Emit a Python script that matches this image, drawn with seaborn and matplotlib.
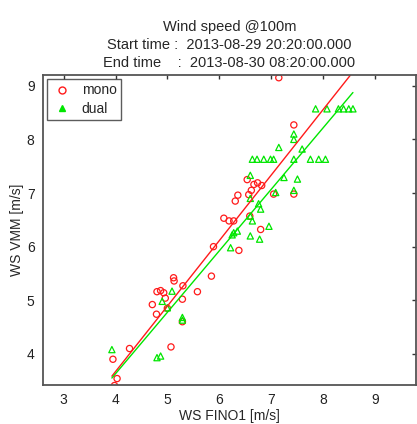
import numpy as np
import pandas as pd
import seaborn as sns
import matplotlib
matplotlib.use("Agg")
import matplotlib.pyplot as plt

# mono (red circles): WS FINO1 vs WS VMM
mono_x = [3.98, 4.03, 3.95, 4.27, 5.07, 4.79, 5.00, 5.29, 4.71, 5.29,
          4.80, 4.87, 4.93, 4.96, 5.13, 5.12, 5.30, 5.58, 5.85, 5.89,
          6.38, 6.80, 6.09, 6.19, 6.28, 6.59, 6.31, 6.36, 6.57, 6.54,
          6.67, 6.74, 6.82, 7.05, 7.44, 7.44, 7.15, 6.62]
mono_y = [3.41, 3.54, 3.90, 4.10, 4.13, 4.74, 4.85, 4.60, 4.92, 5.02,
          5.16, 5.18, 5.14, 5.04, 5.36, 5.42, 5.27, 5.16, 5.45, 6.00,
          5.93, 6.32, 6.53, 6.48, 6.48, 6.57, 6.85, 6.96, 6.97, 7.25,
          7.16, 7.19, 7.14, 6.98, 6.98, 8.27, 9.15, 7.05]

# dual (green triangles)
dual_x = [3.93, 4.80, 4.87, 5.29, 5.29, 4.90, 5.00, 5.09, 6.22, 6.25,
          6.28, 6.35, 6.60, 6.78, 6.96, 6.64, 6.60, 6.80, 6.76, 6.60,
          7.09, 7.44, 6.60, 7.25, 7.51,
          6.64, 6.73, 6.86, 6.99, 7.05, 7.44, 7.76, 7.92, 8.05,
          7.15, 7.60, 7.44, 7.44,
          7.86, 8.08, 8.30, 8.40, 8.50, 8.58]
dual_y = [4.08, 3.93, 3.96, 4.68, 4.63, 4.98, 4.86, 5.17, 5.98, 6.22,
          6.26, 6.29, 6.20, 6.14, 6.38, 6.48, 6.57, 6.70, 6.80, 6.90,
          7.01, 7.05, 7.33, 7.29, 7.26,
          7.63, 7.63, 7.63, 7.63, 7.63, 7.63, 7.63, 7.63, 7.63,
          7.85, 7.82, 8.00, 8.10,
          8.57, 8.57, 8.57, 8.57, 8.57, 8.57]

# linear fits (slope, intercept)
mono_fit = (1.22, -1.21)
dual_fit = (1.145, -0.95)
fit_range = [3.93, 8.58]

x_ticks = [3, 4, 5, 6, 7, 8, 9]
y_ticks = [4, 5, 6, 7, 8, 9]

red = "#ff1a1a"
green = "#00e600"

df = pd.concat([
    pd.DataFrame({"x": mono_x, "y": mono_y, "series": "mono"}),
    pd.DataFrame({"x": dual_x, "y": dual_y, "series": "dual"}),
])

sns.set_style("white")
plt.rcParams["font.family"] = ["Liberation Sans", "DejaVu Sans"]

fig = plt.figure(figsize=(4.17, 4.24), dpi=100)
ax = fig.add_axes([0.103, 0.092, 0.895, 0.731])

sns.scatterplot(data=df, x="x", y="y", hue="series", style="series",
                markers={"mono": "o", "dual": "^"},
                palette={"mono": red, "dual": green},
                s=20, linewidth=0.9, ax=ax, legend=False)
# open markers: move the per-point colours to the edges
for coll in ax.collections:
    fc = coll.get_facecolors()
    coll.set_edgecolors(fc)
    coll.set_facecolor("none")

fx = np.array(fit_range)
ax.plot(fx, mono_fit[0] * fx + mono_fit[1], color=red, lw=1.0)
ax.plot(fx, dual_fit[0] * fx + dual_fit[1], color=green, lw=1.0)

# legend proxies
ax.plot([], [], "o", mfc="none", mec=red, ms=5, mew=1.0, label="mono")
ax.plot([], [], "^", mfc=green, mec=green, ms=5, mew=1.0, label="dual")
leg = ax.legend(loc="upper left", fancybox=False, frameon=True, fontsize=10,
                handletextpad=0.6, borderpad=0.3, labelspacing=0.35,
                handlelength=1.6, borderaxespad=0.3)
leg.get_frame().set_edgecolor("#333333")
leg.get_frame().set_linewidth(1.0)

ax.set_xlim(2.6, 9.8)
ax.set_ylim(3.42, 9.2)
ax.set_xticks(x_ticks)
ax.set_yticks(y_ticks)
ax.tick_params(direction="in", length=3, width=1, top=True, right=True,
               labelsize=10, colors="#333333", labelcolor="#222222", pad=6)
for sp in ax.spines.values():
    sp.set_visible(True)
    sp.set_color("#555555")
    sp.set_linewidth(1.3)

ax.set_xlabel("WS FINO1 [m/s]", fontsize=10, labelpad=1)
ax.set_ylabel("WS VMM [m/s]", fontsize=10, labelpad=2)
ax.set_title("Wind speed @100m\n"
             "Start time :  2013-08-29 20:20:00.000\n"
             "End time    :  2013-08-30 08:20:00.000",
             fontsize=10.5, linespacing=1.35, pad=6)

fig.savefig("out.png", dpi=100, facecolor="white")
